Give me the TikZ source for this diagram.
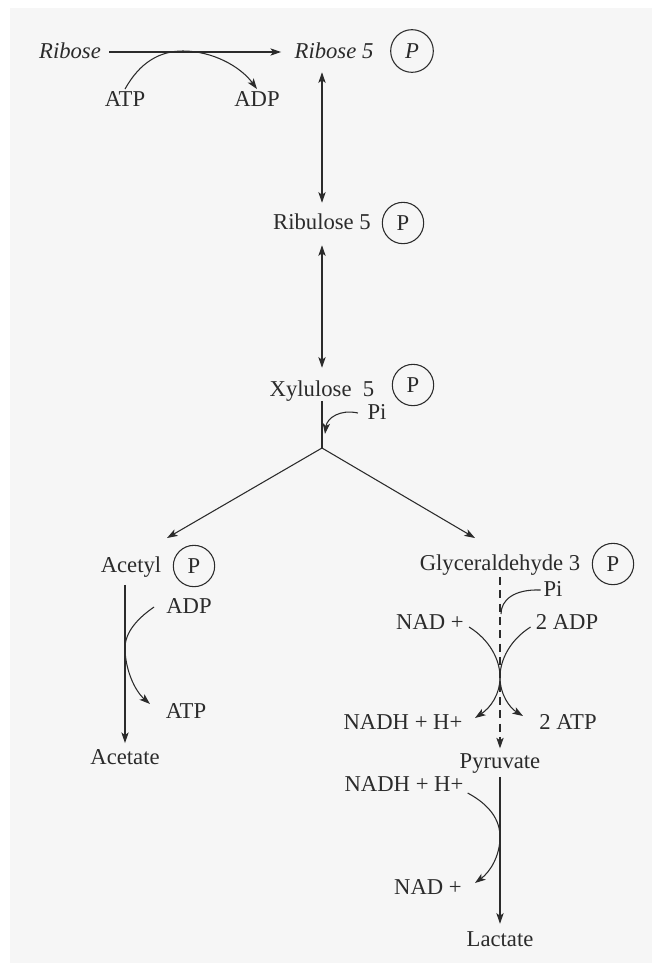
\documentclass[tikz,border=0pt]{standalone}
\usepackage{fontspec}
\setmainfont{Liberation Serif}
\usetikzlibrary{arrows.meta}
\definecolor{bgGray}{HTML}{F6F6F6}
\definecolor{inkDark}{HTML}{2B2B2B}

\begin{document}
\begin{tikzpicture}[
    x=0.75pt, y=-0.75pt,
    lbl/.style={font=\fontsize{17}{20}\selectfont, text=inkDark,
        inner sep=0pt, text height=13pt, text depth=3pt},
    ital/.style={lbl, font=\fontsize{17}{20}\selectfont\itshape},
    pcirc/.style={circle, draw=inkDark, line width=0.8pt, minimum size=31pt,
        inner sep=0pt, font=\fontsize{17}{20}\selectfont, text=inkDark},
    line/.style={draw=inkDark, line width=0.8pt},
    arr/.style={line, -{Stealth[length=8pt, width=5.5pt, inset=2pt]}},
    dbl/.style={line, {Stealth[length=8pt, width=5.5pt, inset=2pt]}-{Stealth[length=8pt, width=5.5pt, inset=2pt]}},
]
\useasboundingbox (0,0) rectangle (655,965);
\fill[bgGray] (10,8) rectangle (652,963);

% === Ribose phosphorylation ===
\node[ital] (ribose) at (70,52) {Ribose};
\node[ital] (rib5) at (334,52) {Ribose 5};
\node[pcirc, minimum width=32pt, minimum height=30pt, font=\fontsize{17}{20}\selectfont\itshape] (rib5P) at (412,51) {P};
\node[lbl] (atp1) at (125,100) {ATP};
\node[lbl] (adp1) at (257,100) {ADP};
\draw[arr, shorten <=6pt, shorten >=10pt] (ribose.east) -- (rib5.west);
\draw[arr] (atp1.north) .. controls (140,62) and (160,51) .. (183,51)
    .. controls (212,51) and (240,66) .. (adp1.north);

% === Isomerisation to xylulose ===
\coordinate (axis) at (322,0);
\node[lbl] (ribu5) at (322,223) {Ribulose 5};
\node[pcirc] (ribu5P) at (403,223) {P};
\node[lbl] (xyl5) at (322,390) {Xylulose\ \ 5};
\node[pcirc] (xyl5P) at (413,385) {P};
\draw[dbl, shorten <=7pt, shorten >=7pt] (rib5.south -| axis) -- (ribu5.north);
\draw[dbl, shorten <=8.5pt, shorten >=8.5pt] (ribu5.south) -- (xyl5.north);

% Phosphoketolase split (Pi in)
\coordinate (split) at (322,448);
\node[lbl] (pi1) at (377,413) {Pi};
\draw[line] (xyl5.south) -- (split);
\draw[arr] ([xshift=-7pt]pi1.west) .. controls (340,409) and (327,418) .. (325,434);

% === Branches ===
\coordinate (toAcetyl) at (167,538);
\coordinate (toGlyc) at (475,538);
\draw[arr] (split) -- (toAcetyl);
\draw[arr] (split) -- (toGlyc);

% === Left: acetyl phosphate to acetate ===
\node[lbl] (acetyl) at (131,566) {Acetyl};
\node[pcirc] (acetylP) at (194,566) {P};
\node[lbl] (acetate) at (125,758) {Acetate};
\node[lbl] (adp2) at (189,607) {ADP};
\node[lbl] (atp2) at (186,712) {ATP};
\draw[arr, shorten <=6pt, shorten >=3pt] (acetyl.south -| acetate) -- (acetate.north);
\draw[arr] ([xshift=-9pt]adp2.west) .. controls (138,618) and (125,632) .. (125,648)
    .. controls (125,668) and (134,690) .. (150,704);

% === Right: glyceraldehyde 3-phosphate to pyruvate ===
\node[lbl] (glyc) at (500,564) {Glyceraldehyde 3};
\node[pcirc] (glycP) at (613,564) {P};
\node[lbl] (pi2) at (553,590) {Pi};
\node[lbl] (nad1) at (430,623) {NAD +};
\node[lbl] (adp3) at (567,623) {2 ADP};
\node[lbl] (nadh1) at (403,723) {NADH + H+};
\node[lbl] (atp3) at (568,723) {2 ATP};
\node[lbl] (pyr) at (500,762) {Pyruvate};
\coordinate (cross) at (500,677);
\draw[arr, dashed, dash pattern=on 6pt off 4pt, shorten <=1.5pt, shorten >=2pt] (glyc.south) -- (pyr.north);
\draw[line] ([xshift=-2pt]pi2.west) .. controls (514,589) and (501,600) .. (501,614);
\draw[arr] (nad1.east) ++(5,4) .. controls (490,640) and (500,660) .. (cross)
    .. controls (500,695) and (490,708) .. (475,718);
\draw[arr] (adp3.west) ++(-5,4) .. controls (510,640) and (500,660) .. (cross)
    .. controls (500,695) and (510,708) .. (523,716);

% === Pyruvate to lactate ===
\node[lbl] (nadh2) at (404,785) {NADH + H+};
\node[lbl] (nad2) at (428,888) {NAD +};
\node[lbl] (lact) at (500,940) {Lactate};
\draw[arr, shorten <=3pt, shorten >=4pt] (pyr.south) -- (lact.north);
\draw[arr] (nadh2.east) ++(4,8) .. controls (490,805) and (500,820) .. (500,837)
    .. controls (500,856) and (490,872) .. (475,883);

\end{tikzpicture}
\end{document}
